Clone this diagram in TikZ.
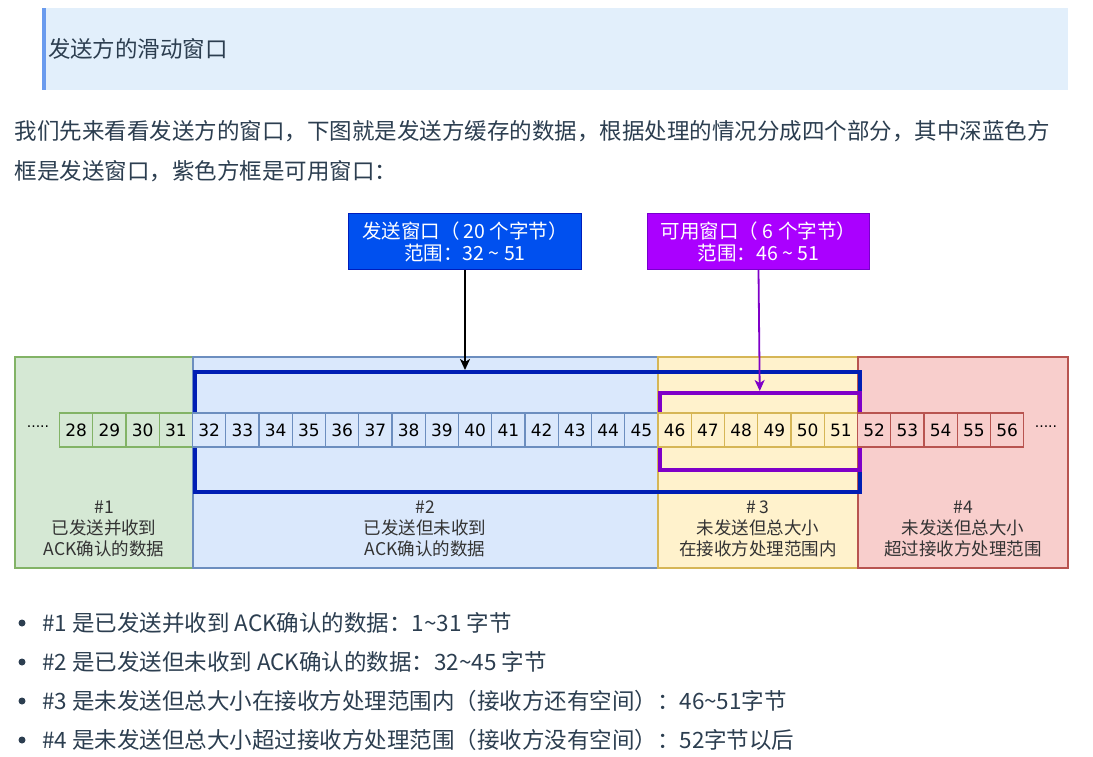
\documentclass[tikz,border=0pt]{standalone}
\usepackage{fontspec}
\setmainfont{Noto Sans CJK SC}
\newfontfamily\numfont{DejaVu Sans}
\usetikzlibrary{arrows.meta}
\definecolor{bodytext}{HTML}{2C3E50}
\definecolor{hdrbg}{HTML}{E2EFFB}
\definecolor{hdrbar}{HTML}{6A9BEE}
\definecolor{gfill}{HTML}{D5E8D4}\definecolor{gline}{HTML}{82B366}
\definecolor{bfill}{HTML}{DAE8FC}\definecolor{bline}{HTML}{6C8EBF}
\definecolor{yfill}{HTML}{FFF2CC}\definecolor{yline}{HTML}{D6B656}
\definecolor{rfill}{HTML}{F8CECC}\definecolor{rline}{HTML}{B85450}
\definecolor{winblue}{HTML}{001EB4}
\definecolor{winpurple}{HTML}{7F00C8}
\definecolor{boxblue}{HTML}{0050EF}\definecolor{boxblueline}{HTML}{001DBC}
\definecolor{boxpurple}{HTML}{AA00FF}\definecolor{boxpurpleline}{HTML}{7700CC}
\definecolor{labeltext}{HTML}{333333}
\tikzset{
  bodyfont/.style={font=\fontsize{22.5pt}{27pt}\selectfont, text=bodytext, inner sep=0pt, outer sep=0pt},
  region/.style={rectangle, line width=1.3pt, inner sep=0pt, outer sep=0pt, anchor=north west, minimum height=211pt},
  cellbox/.style={rectangle, line width=1.1pt, inner sep=0pt, outer sep=0pt, anchor=north west, minimum width=33.25pt, minimum height=34pt, font=\numfont\fontsize{17pt}{19pt}\selectfont, text=black},
  winbox/.style={rectangle, inner sep=0pt, anchor=north west},
  topbox/.style={rectangle, line width=1pt, inner sep=0pt, anchor=north west, minimum height=56pt, text=white, align=center, font=\fontsize{19.5pt}{22pt}\selectfont},
  reglabel/.style={align=center, text=labeltext, inner sep=0pt, font=\fontsize{17.5pt}{21pt}\selectfont},
  dots/.style={inner sep=0pt, text=black, font=\numfont\fontsize{14pt}{16pt}\selectfont},
  ptr/.style={line width=1.8pt, -{Stealth[length=11pt,width=10pt,inset=3pt]}},
}
\begin{document}
\begin{tikzpicture}[x=1pt,y=-1pt]
\useasboundingbox (0,0) rectangle (1093,757);
\fill[white] (0,0) rectangle (1093,757);
% header
\fill[hdrbg] (42,8) rectangle (1068,90);
\fill[hdrbar] (42,8) rectangle (46,90);
\node[bodyfont, anchor=west] (title) at (48,49) {发送方的滑动窗口};
% paragraph
\node[bodyfont, anchor=west] (p1) at (15,131) {我们先来看看发送方的窗口，下图就是发送方缓存的数据，根据处理的情况分成四个部分，其中深蓝色方};
\node[bodyfont, anchor=west] (p2) at (15,171) {框是发送窗口，紫色方框是可用窗口：};
% regions
\node[region, fill=gfill, draw=gline, minimum width=178pt] (r1) at (15,357) {};
\node[region, fill=bfill, draw=bline, minimum width=465pt] (r2) at (193,357) {};
\node[region, fill=yfill, draw=yline, minimum width=200pt] (r3) at (658,357) {};
\node[region, fill=rfill, draw=rline, minimum width=210pt] (r4) at (858,357) {};
% windows
\node[winbox, draw=winblue, line width=4pt, minimum width=665pt, minimum height=120pt] (bwin) at (193,370) {};
\node[winbox, draw=winpurple, line width=3.5pt, minimum width=200pt, minimum height=77pt] (pwin) at (658,391) {};
% cells
\foreach \i in {28,...,56}{
  \pgfmathsetmacro{\cx}{59.5+(\i-28)*33.25}
  \ifnum\i<32
    \node[cellbox, fill=gfill, draw=gline] (c\i) at (\cx,413) {\i};
  \else\ifnum\i<46
    \node[cellbox, fill=bfill, draw=bline] (c\i) at (\cx,413) {\i};
  \else\ifnum\i<52
    \node[cellbox, fill=yfill, draw=yline] (c\i) at (\cx,413) {\i};
  \else
    \node[cellbox, fill=rfill, draw=rline] (c\i) at (\cx,413) {\i};
  \fi\fi\fi
}
\node[dots] (dl) at (38,429) {·····};
\node[dots] (dr) at (1046,429) {·····};
% region labels
\node[reglabel] (l1) at (104,529) {\#1\\已发送并收到\\ACK确认的数据};
\node[reglabel] (l2) at (425,529) {\#2\\已发送但未收到\\ACK确认的数据};
\node[reglabel] (l3) at (758,529) {\# 3\\未发送但总大小\\在接收方处理范围内};
\node[reglabel] (l4) at (963,529) {\#4\\未发送但总大小\\超过接收方处理范围};
% top boxes
\node[topbox, fill=boxblue, draw=boxblueline, minimum width=233pt] (bbox) at (348,213) {发送窗口（ 20 个字节）\\范围：32 \textasciitilde{} 51};
\node[topbox, fill=boxpurple, draw=boxpurpleline, minimum width=222pt] (pbox) at (647,213) {可用窗口（ 6 个字节）\\范围：46 \textasciitilde{} 51};
% arrows
\draw[ptr, black] (bbox.south) -- (bbox.south |- bwin.north);
\draw[ptr, winpurple] (pbox.south) -- (pwin.north);
% bullets
\foreach \k/\yy in {1/623,2/662,3/701,4/740}{
  \fill[bodytext] (22,\yy) circle (3.5pt);
}
\node[bodyfont, anchor=west] (b1) at (42,623) {\#1 是已发送并收到 ACK确认的数据：1\textasciitilde31 字节};
\node[bodyfont, anchor=west] (b2) at (42,662) {\#2 是已发送但未收到 ACK确认的数据：32\textasciitilde45 字节};
\node[bodyfont, anchor=west] (b3) at (42,701) {\#3 是未发送但总大小在接收方处理范围内（接收方还有空间）：46\textasciitilde51字节};
\node[bodyfont, anchor=west] (b4) at (42,740) {\#4 是未发送但总大小超过接收方处理范围（接收方没有空间）：52字节以后};
\end{tikzpicture}
\end{document}
